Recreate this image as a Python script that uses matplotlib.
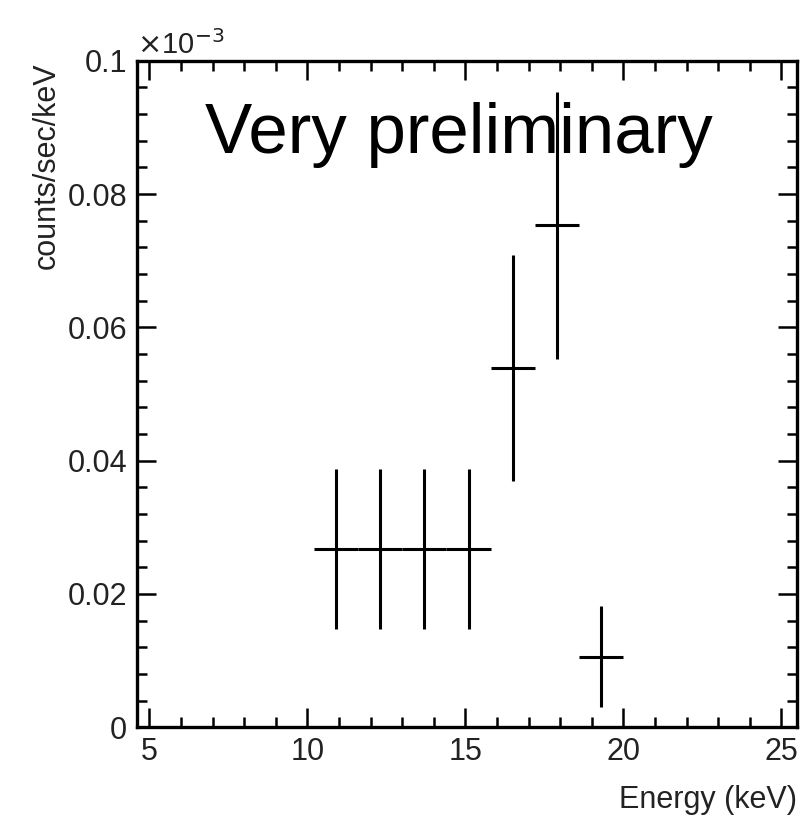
import matplotlib
matplotlib.use("Agg")
import matplotlib.pyplot as plt
from matplotlib.ticker import MultipleLocator, FixedLocator

plt.rcParams['font.family'] = ['Liberation Sans', 'DejaVu Sans']

# Data (energy bin centres, rates in units of 1e-3 counts/sec/keV)
energy = [10.9, 12.3, 13.7, 15.1, 16.5, 17.9, 19.3]
energy_halfwidth = [0.7, 0.7, 0.7, 0.7, 0.7, 0.7, 0.7]
rate = [0.0268, 0.0268, 0.0268, 0.0268, 0.0539, 0.0753, 0.0106]
rate_err = [0.0120, 0.0120, 0.0120, 0.0120, 0.0169, 0.0200, 0.0076]

xticks = [5, 10, 15, 20, 25]
yticks = [0, 0.02, 0.04, 0.06, 0.08, 0.1]
yticklabels = ['0', '0.02', '0.04', '0.06', '0.08', '0.1']

fig = plt.figure(figsize=(8.0, 8.18), dpi=100)
ax = fig.add_axes([0.1709, 0.1109, 0.9966 - 0.1709, 0.9258 - 0.1109])

ax.errorbar(energy, rate, xerr=energy_halfwidth, yerr=rate_err,
            fmt='none', ecolor='black', elinewidth=2.2, capsize=0)

ax.set_xlim(4.6, 25.5)
ax.set_ylim(0, 0.1)

ax.xaxis.set_major_locator(FixedLocator(xticks))
ax.xaxis.set_minor_locator(MultipleLocator(1))
ax.yaxis.set_major_locator(FixedLocator(yticks))
ax.set_yticklabels(yticklabels)
ax.yaxis.set_minor_locator(MultipleLocator(0.004))

for s in ax.spines.values():
    s.set_linewidth(2.4)

ax.tick_params(which='both', direction='in', top=True, right=True,
               labelsize=22, width=1.8, colors='black', labelcolor='#222222')
ax.tick_params(which='major', length=14)
ax.tick_params(which='minor', length=7)
ax.tick_params(axis='x', which='major', pad=7)
ax.tick_params(axis='y', which='major', pad=7)

# axis titles (ROOT style: placed at the end of axes)
fig.text(797 / 800, 1 - 800 / 818, 'Energy (keV)', ha='right', va='center',
         fontsize=22, color='#222222')
fig.text(47 / 800, 1 - 62 / 818, 'counts/sec/keV', ha='center', va='top',
         rotation=90, fontsize=22, color='#222222')
fig.text(137 / 800, 1 - 54 / 818, r'$\times$10$^{-3}$', ha='left',
         va='baseline', fontsize=21, color='#222222')

ax.text(205 / 800, 1 - 153 / 818, 'Very preliminary', transform=fig.transFigure,
        ha='left', va='baseline', fontsize=51, color='black')

fig.savefig('out.png', dpi=100)
